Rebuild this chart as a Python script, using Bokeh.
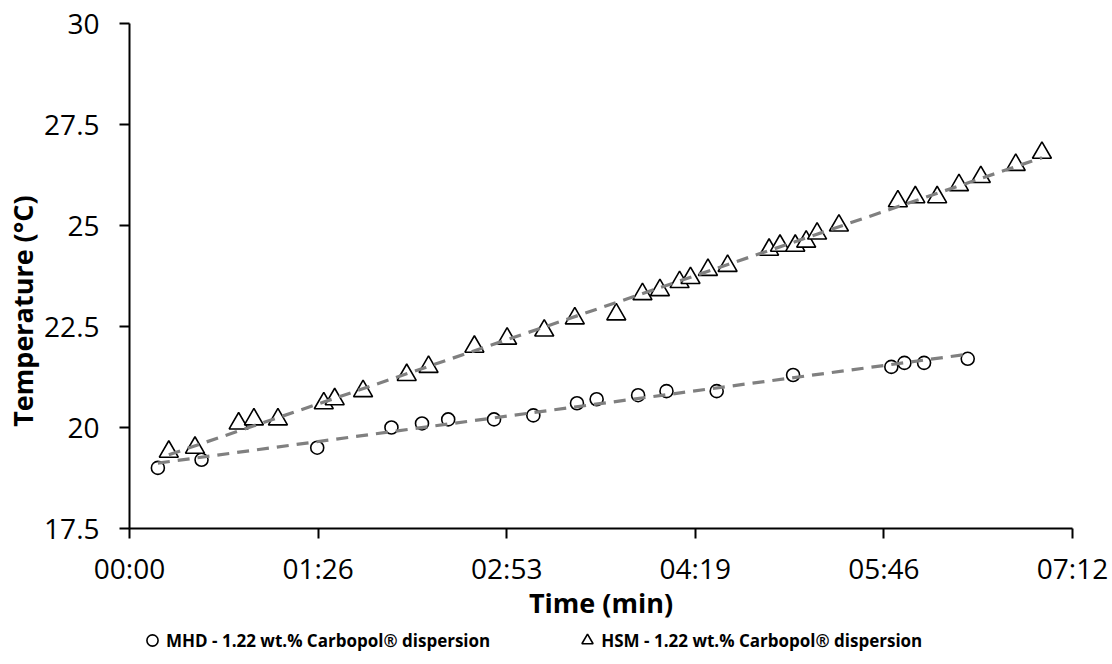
import numpy as np
from bokeh.plotting import figure
from bokeh.layouts import column
from bokeh.models import (FixedTicker, CustomJSTickFormatter, Legend, LegendItem, Range1d)
from bokeh.embed import file_html
from bokeh.resources import INLINE

# ---------------- data (time in seconds, temperature in °C) ----------------
mhd_time_s = [13, 33, 86, 120, 134, 146, 167, 185, 205, 214, 233, 246, 269, 304,
              349, 355, 364, 384]
mhd_temp_c = [19.0, 19.2, 19.5, 20.0, 20.1, 20.2, 20.2, 20.3, 20.6, 20.7, 20.8,
              20.9, 20.9, 21.3, 21.5, 21.6, 21.6, 21.7]

hsm_time_s = [18, 30, 50, 57, 68, 89, 94, 107, 127, 137, 158, 173, 190, 204, 223,
              235, 243, 252, 257, 265, 274, 293, 298, 305, 310, 315, 325, 352, 360,
              370, 380, 390, 406, 418]
hsm_temp_c = [19.4, 19.5, 20.1, 20.2, 20.2, 20.6, 20.7, 20.9, 21.3, 21.5, 22.0,
              22.2, 22.4, 22.7, 22.8, 23.3, 23.4, 23.6, 23.7, 23.9, 24.0, 24.4,
              24.5, 24.5, 24.6, 24.8, 25.0, 25.6, 25.7, 25.7, 26.0, 26.2, 26.5, 26.8]

x_ticks = [0, 86.4, 172.8, 259.2, 345.6, 432]
x_tick_labels = ["00:00", "01:26", "02:53", "04:19", "05:46", "07:12"]
y_ticks = [17.5, 20, 22.5, 25, 27.5, 30]
y_tick_labels = ["17.5", "20", "22.5", "25", "27.5", "30"]

mhd_label = "MHD - 1.22 wt.% Carbopol® dispersion"
hsm_label = "HSM - 1.22 wt.% Carbopol® dispersion"
x_title = "Time (min)"
y_title = "Temperature (°C)"

FONT = "Open Sans"
MHD_STYLE = dict(marker="circle", size=13, fill_color="white",
                 line_color="black", line_width=1.6)
HSM_STYLE = dict(marker="triangle", size=19, fill_color="white",
                 line_color="black", line_width=1.6)

p = figure(width=1108, height=628,
           x_range=Range1d(x_ticks[0], x_ticks[-1]),
           y_range=Range1d(y_ticks[0], y_ticks[-1]),
           output_backend="svg", toolbar_location=None,
           min_border_left=129, min_border_right=36,
           min_border_top=23, min_border_bottom=100)
p.outline_line_color = None
p.xgrid.visible = False
p.ygrid.visible = False
p.background_fill_color = "white"
p.border_fill_color = "white"

p.scatter(mhd_time_s, mhd_temp_c, **MHD_STYLE)
p.scatter(hsm_time_s, hsm_temp_c, **HSM_STYLE)

# linear trendlines (least squares over each series' time span)
for t, T in [(mhd_time_s, mhd_temp_c), (hsm_time_s, hsm_temp_c)]:
    coef = np.polyfit(t, T, 1)
    xs = [min(t), max(t)]
    ys = [float(v) for v in np.polyval(coef, xs)]
    p.line(xs, ys, line_color="#808080", line_width=3.2, line_dash="12 8")

fmt_code = """
let best = 0;
for (let i = 0; i < tvals.length; i++) {
  if (Math.abs(tvals[i] - tick) < Math.abs(tvals[best] - tick)) best = i;
}
return tlabels[best];
"""
p.xaxis.ticker = FixedTicker(ticks=x_ticks)
p.xaxis.formatter = CustomJSTickFormatter(args=dict(tvals=x_ticks, tlabels=x_tick_labels), code=fmt_code)
p.yaxis.ticker = FixedTicker(ticks=y_ticks)
p.yaxis.formatter = CustomJSTickFormatter(args=dict(tvals=y_ticks, tlabels=y_tick_labels), code=fmt_code)

p.xaxis.axis_label = x_title
# trailing no-break spaces shift the rotated title downward, as in the original
p.yaxis.axis_label = y_title + "\u00a0" * 10

for ax in (p.xaxis[0], p.yaxis[0]):
    ax.axis_line_color = "black"
    ax.axis_line_width = 2
    ax.major_tick_line_color = "black"
    ax.major_tick_line_width = 2
    ax.major_tick_out = 10
    ax.major_tick_in = 0
    ax.minor_tick_out = 0
    ax.minor_tick_in = 0
    ax.major_label_text_font = FONT
    ax.major_label_text_font_size = "28px"
    ax.major_label_text_color = "black"
    ax.axis_label_text_font = FONT
    ax.axis_label_text_font_style = "bold"
    ax.axis_label_text_font_size = "27px"
    ax.axis_label_text_color = "black"

p.yaxis.major_label_standoff = 20
p.yaxis.axis_label_standoff = 0
p.xaxis.major_label_standoff = 10
p.xaxis.axis_label_standoff = -6

# ---------------- legend strip below the chart ----------------
# (same series, drawn outside this strip's visible range: only the legend shows)
leg = figure(width=1108, height=34, x_range=Range1d(0, 1), y_range=Range1d(0, 1),
             output_backend="svg", toolbar_location=None,
             x_axis_location=None, y_axis_location=None,
             min_border=0, min_border_left=0, min_border_right=0,
             min_border_top=0, min_border_bottom=0)
leg.outline_line_color = None
leg.xgrid.visible = False
leg.ygrid.visible = False
leg.background_fill_color = "white"
leg.border_fill_color = "white"
k_mhd = leg.scatter(mhd_time_s, mhd_temp_c, **MHD_STYLE)
k_hsm = leg.scatter(hsm_time_s, hsm_temp_c, **HSM_STYLE)

legend = Legend(items=[LegendItem(label=mhd_label, renderers=[k_mhd]),
                       LegendItem(label=hsm_label, renderers=[k_hsm])],
                orientation="horizontal", location=(9, 8),
                glyph_width=28, glyph_height=28, label_height=28,
                label_standoff=0, spacing=83, padding=0, margin=0,
                border_line_color=None, background_fill_alpha=0,
                label_text_font=FONT, label_text_font_style="bold",
                label_text_font_size="17px", label_text_color="black")
leg.add_layout(legend)

layout = column(p, leg, spacing=0)

with open("out.html", "w", encoding="utf-8") as f:
    f.write(file_html(layout, INLINE))
